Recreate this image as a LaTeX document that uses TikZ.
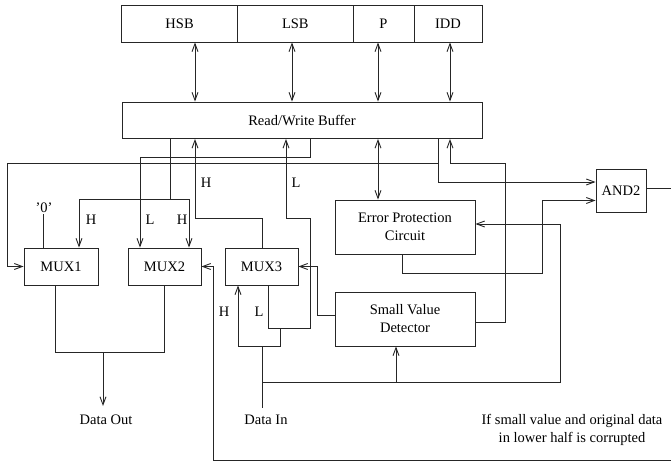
\documentclass[tikz,border=0pt]{standalone}
\usepackage{fontspec}
\setmainfont{Liberation Serif}
\usetikzlibrary{arrows.meta}

\tikzset{
  wire/.style={line width=0.9pt, draw=black!85},
  arr/.style={wire, -{Straight Barb[length=8pt,width=6pt]}},
  dbl/.style={wire, {Straight Barb[length=8pt,width=6pt]}-{Straight Barb[length=8pt,width=6pt]}},
  blk/.style={draw=black!85, line width=0.9pt, inner sep=0pt, minimum height=37pt,
              font=\fontsize{14.5}{18}\selectfont, align=center},
  lbl/.style={inner sep=1pt, font=\fontsize{14.5}{18}\selectfont, align=center}
}

\begin{document}
\begin{tikzpicture}[x=1pt, y=-1pt]
\useasboundingbox (0,0) rectangle (671,462);

% ---- register word and buffer ----
\node[blk, minimum width=116.2pt] (hsb) at (179.6,23.5) {HSB};
\node[blk, minimum width=115.3pt] (lsb) at (295.35,23.5) {LSB};
\node[blk, minimum width=61pt]    (par) at (383.5,23.5) {P};
\node[blk, minimum width=68pt]    (idd) at (448,23.5) {IDD};
\node[blk, minimum width=360pt, minimum height=36.5pt] (buf) at (302,120.25) {Read/Write Buffer};

% ---- functional blocks ----
\node[blk, minimum width=74pt] (mux1) at (61,266.5) {MUX1};
\node[blk, minimum width=73pt] (mux2) at (164.5,266.5) {MUX2};
\node[blk, minimum width=73pt] (mux3) at (261.5,266.5) {MUX3};
\node[blk, minimum width=140pt, minimum height=54pt] (epc) at (405,227) {Error Protection\\Circuit};
\node[blk, minimum width=140pt, minimum height=54pt] (svd) at (405,319) {Small Value\\Detector};
\node[blk, minimum width=50pt, minimum height=43pt] (and2) at (621,190.5) {AND2};

% ---- free texts ----
\node[lbl] (zero) at (44,208) {'0'};
\node[lbl] (dout) at (106,420) {Data Out};
\node[lbl] (din)  at (266,420) {Data In};
\node[lbl] (note) at (572,429.5) {If small value and original data\\in lower half is corrupted};

% ---- wire columns ----
\coordinate (xL)    at (7,0);
\coordinate (x0)    at (43,0);
\coordinate (xM1)   at (55,0);
\coordinate (xH1)   at (79,0);
\coordinate (xDO)   at (103,0);
\coordinate (xL2)   at (140,0);
\coordinate (xM2o)  at (164,0);
\coordinate (xHs)   at (170,0);
\coordinate (xH2)   at (189,0);
\coordinate (xHS)   at (195,0);
\coordinate (xR)    at (213,0);
\coordinate (xDH)   at (238,0);
\coordinate (xDI)   at (262,0);
\coordinate (xM3l)  at (268,0);
\coordinate (xDL)   at (280,0);
\coordinate (xLup)  at (286,0);
\coordinate (xLS)   at (292,0);
\coordinate (xLl)   at (310,0);
\coordinate (xS)    at (317,0);
\coordinate (xP)    at (378,0);
\coordinate (xSin)  at (396,0);
\coordinate (xEo)   at (402,0);
\coordinate (xA1)   at (438,0);
\coordinate (xID)   at (450,0);
\coordinate (xSr)   at (505,0);
\coordinate (xA2)   at (542,0);
\coordinate (xEin)  at (560,0);
\coordinate (xEdge) at (671,0);

% ---- wire rows ----
\coordinate (y157) at (0,157);
\coordinate (y163) at (0,163);
\coordinate (y182) at (0,182);
\coordinate (y188) at (0,188);
\coordinate (y199) at (0,199);
\coordinate (y200) at (0,200.5);
\coordinate (y218) at (0,218);
\coordinate (y224) at (0,224);
\coordinate (y273) at (0,273);
\coordinate (y315) at (0,315);
\coordinate (y322) at (0,322);
\coordinate (y328) at (0,328);
\coordinate (y346) at (0,346);
\coordinate (y352) at (0,352);
\coordinate (y382) at (0,382);
\coordinate (y406) at (0,406);
\coordinate (y407) at (0,407.5);
\coordinate (y461) at (0,460.5);

% ---- register <-> buffer ----
\draw[dbl] (xHS |- hsb.south) -- (xHS |- buf.north);
\draw[dbl] (xLS |- lsb.south) -- (xLS |- buf.north);
\draw[dbl] (xP  |- par.south) -- (xP  |- buf.north);
\draw[dbl] (xID |- idd.south) -- (xID |- buf.north);
\draw[dbl] (xP  |- buf.south) -- (xP  |- epc.north);

% ---- buffer to multiplexers ----
\draw[arr] (xHs |- buf.south) |- (xH1 |- y199) -- (xH1 |- mux1.north);
\draw[arr] (xHs |- y199) -| (xH2 |- mux2.north);
\draw[arr] (xLl |- buf.south) |- (xL2 |- y157) -- (xL2 |- mux2.north);
\draw[arr] (xA1 |- y163) -| (xL |- mux1.west) -- (mux1.west);
\draw[arr] (xA1 |- buf.south) |- (and2.west |- y182);
\draw[wire] (x0 |- zero.south) -- (x0 |- mux1.north);

% ---- MUX3 back to buffer ----
\draw[arr] (xDI |- mux3.north) |- (xHS |- y218) -- (xHS |- buf.south);
\draw[arr] (xM3l |- mux3.south) |- (xLl |- y328) -- (xLl |- y218) -| (xLup |- buf.south);

% ---- data in ----
\draw[wire] (xDI |- y407) -- (xDI |- y346);
\draw[arr] (xDL |- y328) |- (xDH |- y346) -- (xDH |- mux3.south);
\draw[arr] (xDI |- y382) -| (xEin |- y224) -- (epc.east |- y224);
\draw[arr] (xSin |- y382) -- (xSin |- svd.south);

% ---- detector and protection outputs ----
\draw[arr] (svd.west |- y315) -| (xS |- mux3.east) -- (mux3.east);
\draw[arr] (svd.east |- y322) -| (xSr |- y163) -| (xID |- buf.south);
\draw[arr] (xEo |- epc.south) |- (xA2 |- y273) |- (and2.west |- y200);

% ---- AND2 result back to MUX2 ----
\draw[wire] (and2.east |- y188) -- (xEdge |- y188);
\draw[arr] (xEdge |- y461) -| (xR |- mux2.east) -- (mux2.east);

% ---- data out ----
\draw[wire] (xM1 |- mux1.south) |- (xM2o |- y352) -- (xM2o |- mux2.south);
\draw[arr] (xDO |- y352) -- (xDO |- y406);

% ---- select labels ----
\node[lbl] (lh1) at (91,220) {H};
\node[lbl] (ll2) at (150,220) {L};
\node[lbl] (lh2) at (182,220) {H};
\node[lbl] (lh3) at (206,183) {H};
\node[lbl] (ll3) at (296,183) {L};
\node[lbl] (lh4) at (224,312) {H};
\node[lbl] (ll4) at (259,312) {L};
\end{tikzpicture}
\end{document}
